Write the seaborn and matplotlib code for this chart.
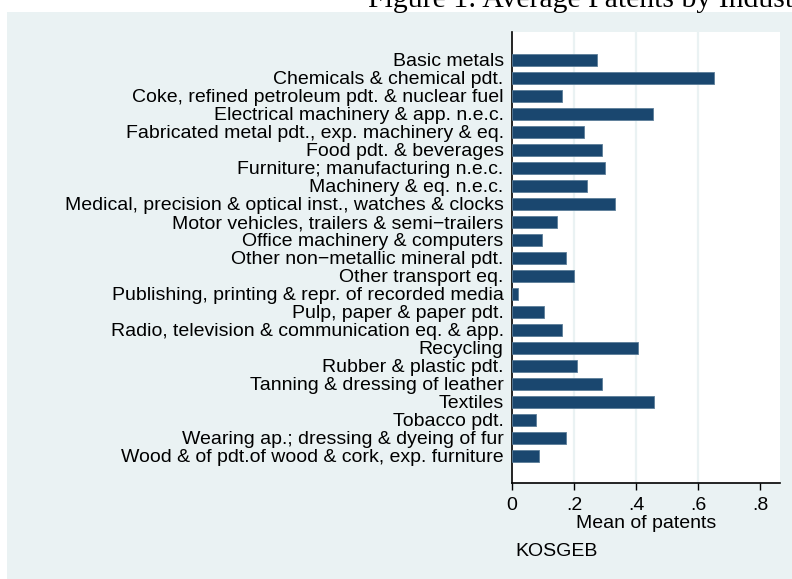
import numpy as np
import pandas as pd
import seaborn as sns
import matplotlib.pyplot as plt
from matplotlib.patches import Rectangle

industries = [
    'Basic metals',
    'Chemicals & chemical pdt.',
    'Coke, refined petroleum pdt. & nuclear fuel',
    'Electrical machinery & app. n.e.c.',
    'Fabricated metal pdt., exp. machinery & eq.',
    'Food pdt. & beverages',
    'Furniture; manufacturing n.e.c.',
    'Machinery & eq. n.e.c.',
    'Medical, precision & optical inst., watches & clocks',
    'Motor vehicles, trailers & semi\u2212trailers',
    'Office machinery & computers',
    'Other non\u2212metallic mineral pdt.',
    'Other transport eq.',
    'Publishing, printing & repr. of recorded media',
    'Pulp, paper & paper pdt.',
    'Radio, television & communication eq. & app.',
    'Recycling',
    'Rubber & plastic pdt.',
    'Tanning & dressing of leather',
    'Textiles',
    'Tobacco pdt.',
    'Wearing ap.; dressing & dyeing of fur',
    'Wood & of pdt.of wood & cork, exp. furniture',
]
mean_patents = [0.273, 0.652, 0.161, 0.455, 0.232, 0.290, 0.300, 0.241, 0.331,
                0.144, 0.097, 0.173, 0.201, 0.020, 0.103, 0.162, 0.406, 0.209,
                0.289, 0.458, 0.077, 0.175, 0.088]
xticks = [0, 0.2, 0.4, 0.6, 0.8]
xtick_labels = ['0', '.2', '.4', '.6', '.8']

data = pd.DataFrame({'Industry': industries, 'Mean of patents': mean_patents})

sns.set_style('white')
plt.rcParams['text.color'] = 'black'
plt.rcParams['xtick.color'] = 'black'
plt.rcParams['ytick.color'] = 'black'
plt.rcParams['axes.labelcolor'] = 'black'

W, H = 792, 579
fig = plt.figure(figsize=(W / 100, H / 100), dpi=100)
fig.patch.set_facecolor('white')

# Stata-like graph region behind the plot
bg = fig.add_axes([0, 0, 1, 1], zorder=-5)
bg.set_axis_off()
bg.add_patch(Rectangle((7 / W, 0), 1 - 7 / W, 1 - 12 / H, transform=bg.transAxes,
                       facecolor='#eaf2f3', edgecolor='none'))

ax = fig.add_axes([512 / W, 1 - 483 / H, (780 - 512) / W, (483 - 32) / H])
ax.set_facecolor('white')

sns.barplot(data=data, x='Mean of patents', y='Industry', color='#1a476f',
            saturation=1, width=0.65, edgecolor='#5b7d99', linewidth=0.6, ax=ax, zorder=3)

fs = 14
ax.set_xlim(0, 0.8645)
ax.set_ylim(len(industries) - 1 + 1.5, -1.55)
ax.set_xticks(xticks)
ax.set_xticklabels(xtick_labels, fontsize=fs, family='Liberation Sans')
ax.tick_params(axis='x', length=5, width=1, color='black', pad=5, direction='out', bottom=True)
ax.tick_params(axis='y', length=0, pad=6)
for lbl in ax.get_yticklabels():
    lbl.set_fontsize(fs)
    lbl.set_family('Liberation Sans')

for g in [0.2, 0.4, 0.6]:
    ax.axvline(g, color='#eaf2f3', lw=1.6, zorder=1)

for side in ['top', 'right']:
    ax.spines[side].set_visible(False)
for side in ['left', 'bottom']:
    ax.spines[side].set_color('black')
    ax.spines[side].set_linewidth(1.2)

ax.set_ylabel('')
ax.set_xlabel('Mean of patents', fontsize=fs, family='Liberation Sans', labelpad=1)

fig.text(515 / W, 1 - 552 / H, 'KOSGEB', fontsize=fs, family='Liberation Sans',
         ha='left', va='center')
fig.text(368 / W, 1 - 7 / H, 'Figure 1: Average Patents by Industry', fontsize=21.4,
         family='Liberation Serif', ha='left', va='baseline')

fig.savefig('out.png', dpi=100)
